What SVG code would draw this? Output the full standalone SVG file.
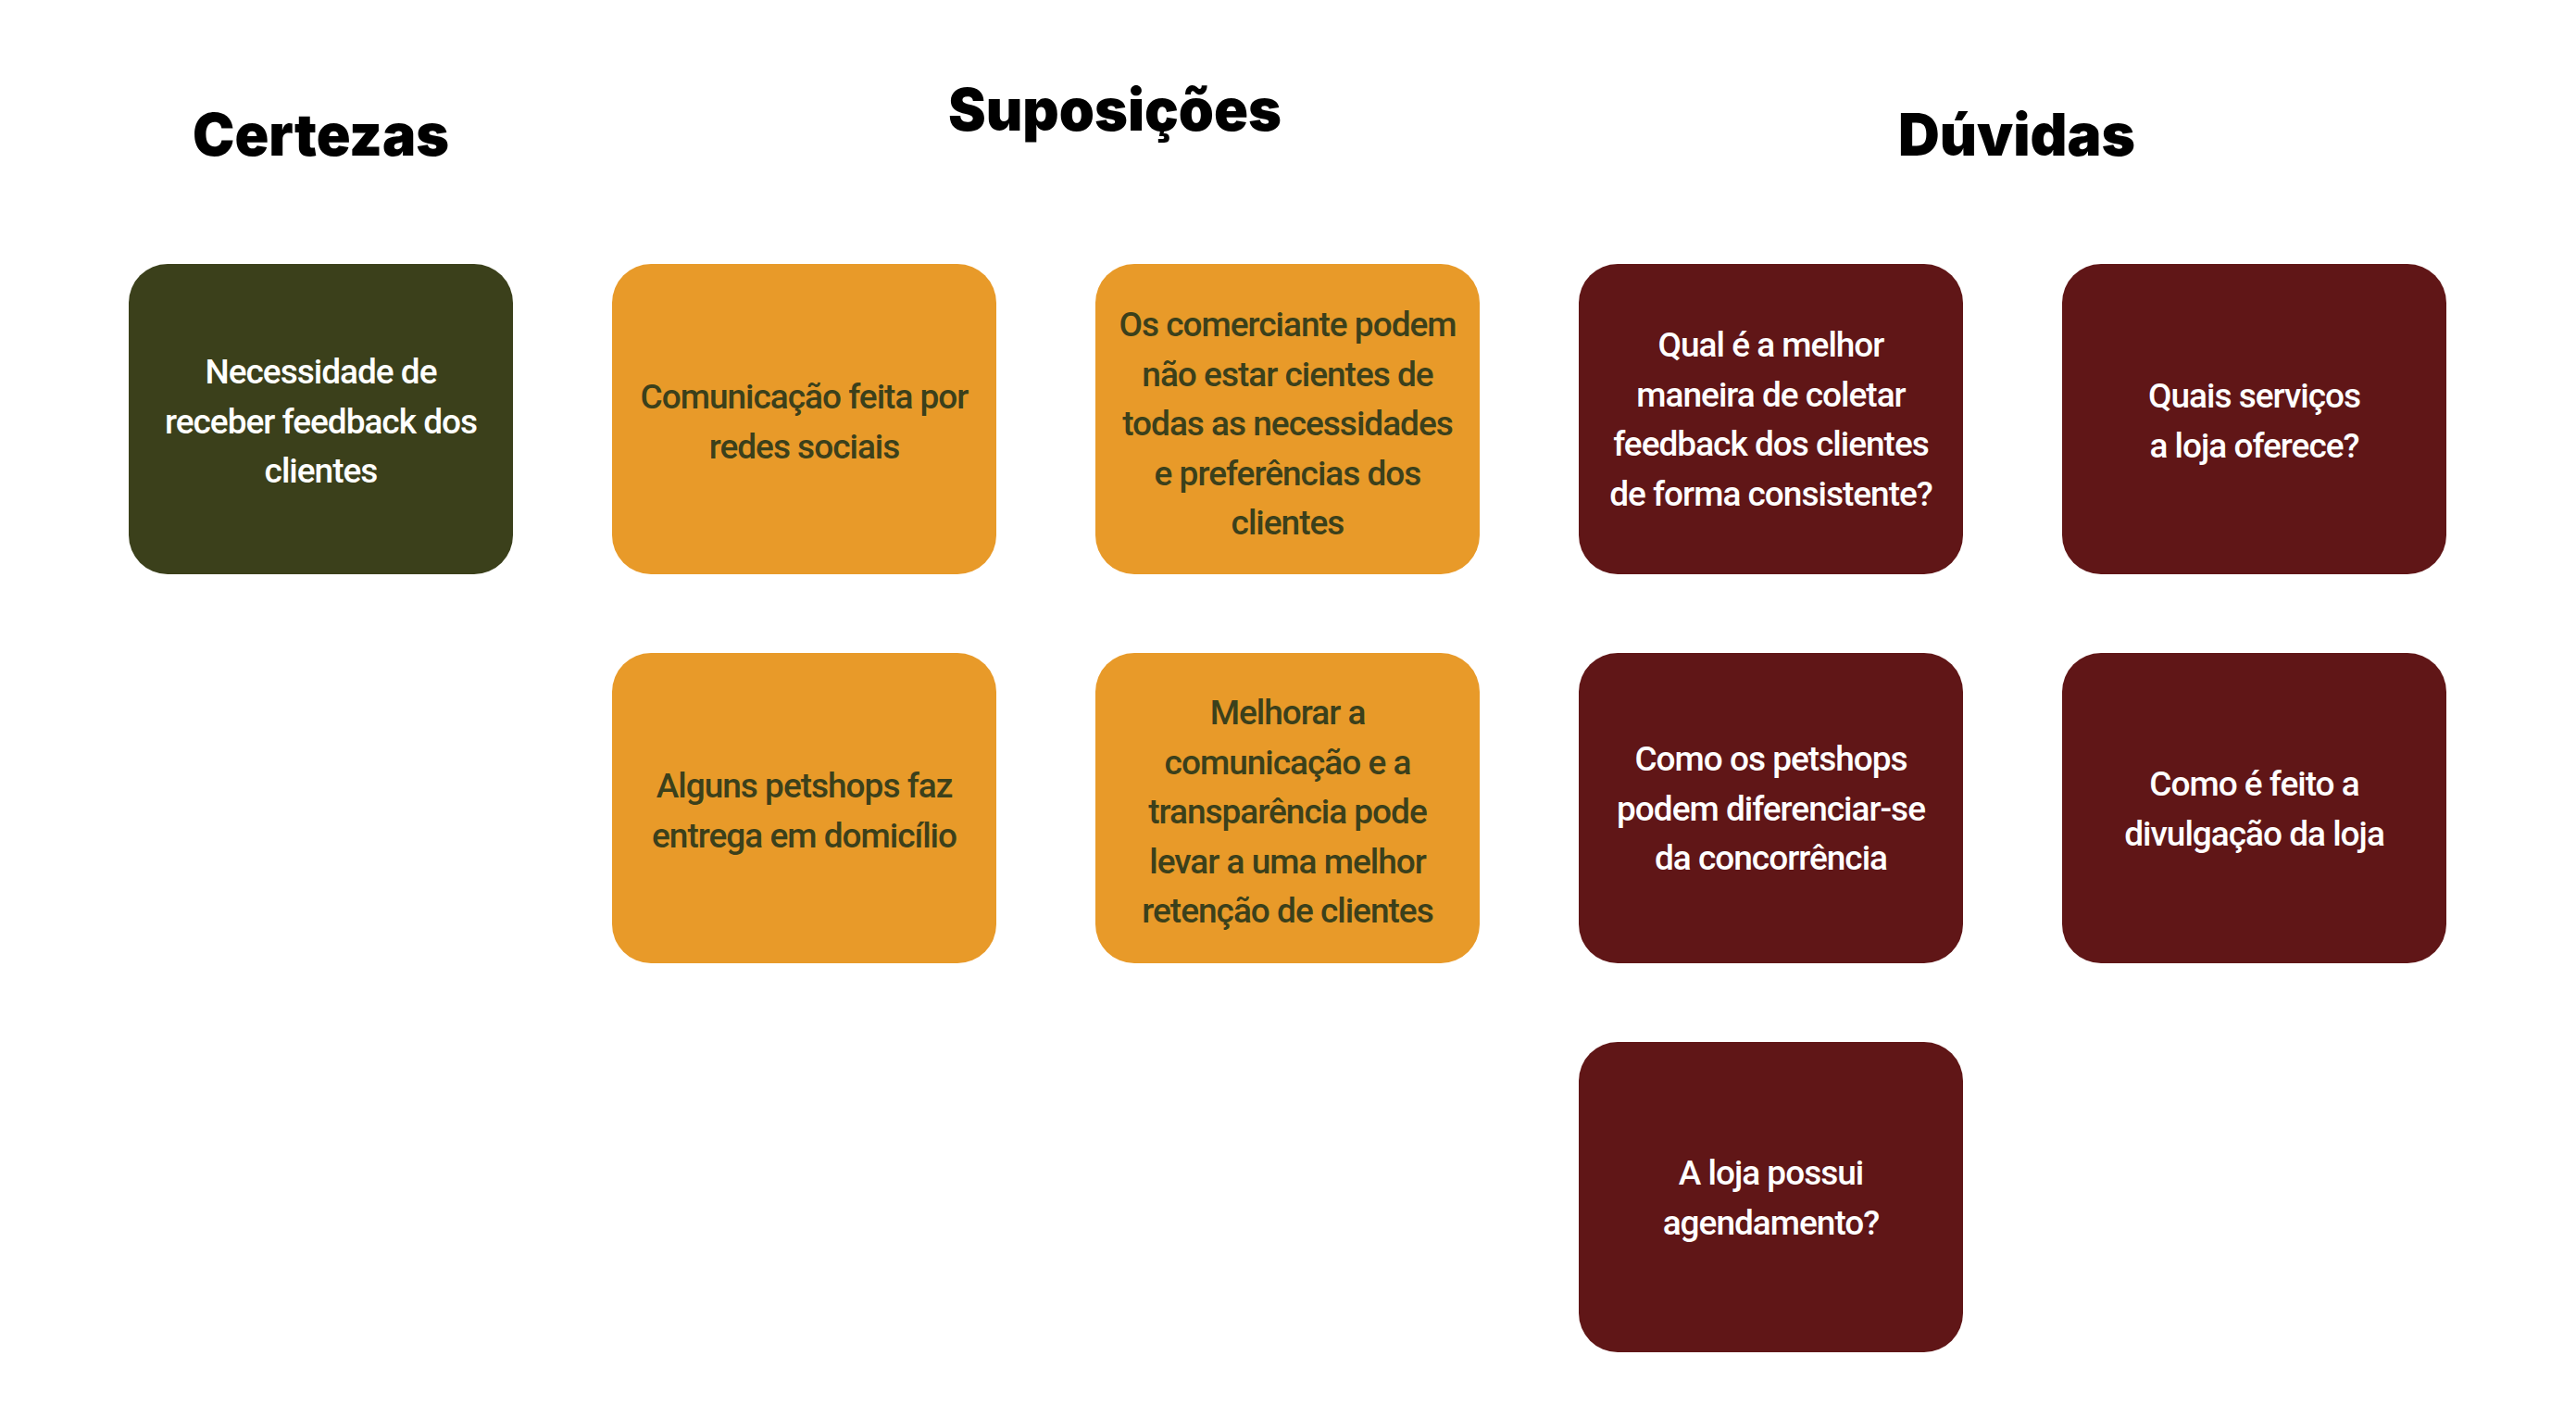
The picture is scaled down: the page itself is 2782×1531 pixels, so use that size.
<svg xmlns="http://www.w3.org/2000/svg" width="2782" height="1531" viewBox="0 0 2782 1531">
<style>
.title{font-family:Inter,"Open Sans","Liberation Sans",sans-serif;font-weight:900;font-size:63px;fill:#000;text-anchor:middle}
.box{stroke:none}
.g{fill:#3B401B}
.o{fill:#E89A29}
.r{fill:#601617}
.t{font-family:Roboto,"Liberation Sans",sans-serif;font-weight:500;font-size:37px;text-anchor:middle;letter-spacing:-1px}
.tw{fill:#FFFFFF}
.td{fill:#3B401B}
</style>
<rect width="2782" height="1531" fill="#FFFFFF"/>
<g id="titles">
<text class="title" x="346.5" y="168" textLength="277" lengthAdjust="spacingAndGlyphs">Certezas</text>
<text class="title" x="1204" y="141" textLength="360" lengthAdjust="spacingAndGlyphs">Suposições</text>
<text class="title" x="2178" y="168" textLength="256" lengthAdjust="spacingAndGlyphs">Dúvidas</text>
</g>
<g id="connectors"></g>
<g id="n1">
<rect class="box g" x="139" y="285" width="415" height="335" rx="42"/>
<text class="t tw" x="346.5" y="414">Necessidade de</text>
<text class="t tw" x="346.5" y="467.5">receber feedback dos</text>
<text class="t tw" x="346.5" y="521">clientes</text>
</g>
<g id="n2">
<rect class="box o" x="661" y="285" width="415" height="335" rx="42"/>
<text class="t td" x="868.5" y="441">Comunicação feita por</text>
<text class="t td" x="868.5" y="494.5">redes sociais</text>
</g>
<g id="n3">
<rect class="box o" x="1183" y="285" width="415" height="335" rx="42"/>
<text class="t td" x="1390.5" y="363">Os comerciante podem</text>
<text class="t td" x="1390.5" y="416.5">não estar cientes de</text>
<text class="t td" x="1390.5" y="470">todas as necessidades</text>
<text class="t td" x="1390.5" y="523.5">e preferências dos</text>
<text class="t td" x="1390.5" y="577">clientes</text>
</g>
<g id="n4">
<rect class="box o" x="661" y="705" width="415" height="335" rx="42"/>
<text class="t td" x="868.5" y="861">Alguns petshops faz</text>
<text class="t td" x="868.5" y="914.5">entrega em domicílio</text>
</g>
<g id="n5">
<rect class="box o" x="1183" y="705" width="415" height="335" rx="42"/>
<text class="t td" x="1390.5" y="782">Melhorar a</text>
<text class="t td" x="1390.5" y="835.5">comunicação e a</text>
<text class="t td" x="1390.5" y="889">transparência pode</text>
<text class="t td" x="1390.5" y="942.5">levar a uma melhor</text>
<text class="t td" x="1390.5" y="996">retenção de clientes</text>
</g>
<g id="n6">
<rect class="box r" x="1705" y="285" width="415" height="335" rx="42"/>
<text class="t tw" x="1912.5" y="385">Qual é a melhor</text>
<text class="t tw" x="1912.5" y="438.5">maneira de coletar</text>
<text class="t tw" x="1912.5" y="492">feedback dos clientes</text>
<text class="t tw" x="1912.5" y="545.5">de forma consistente?</text>
</g>
<g id="n7">
<rect class="box r" x="2227" y="285" width="415" height="335" rx="42"/>
<text class="t tw" x="2434.5" y="440">Quais serviços</text>
<text class="t tw" x="2434.5" y="493.5">a loja oferece?</text>
</g>
<g id="n8">
<rect class="box r" x="1705" y="705" width="415" height="335" rx="42"/>
<text class="t tw" x="1912.5" y="832">Como os petshops</text>
<text class="t tw" x="1912.5" y="885.5">podem diferenciar-se</text>
<text class="t tw" x="1912.5" y="939">da concorrência</text>
</g>
<g id="n9">
<rect class="box r" x="2227" y="705" width="415" height="335" rx="42"/>
<text class="t tw" x="2434.5" y="859">Como é feito a</text>
<text class="t tw" x="2434.5" y="912.5">divulgação da loja</text>
</g>
<g id="n10">
<rect class="box r" x="1705" y="1125" width="415" height="335" rx="42"/>
<text class="t tw" x="1912.5" y="1279">A loja possui</text>
<text class="t tw" x="1912.5" y="1332.5">agendamento?</text>
</g>
</svg>
